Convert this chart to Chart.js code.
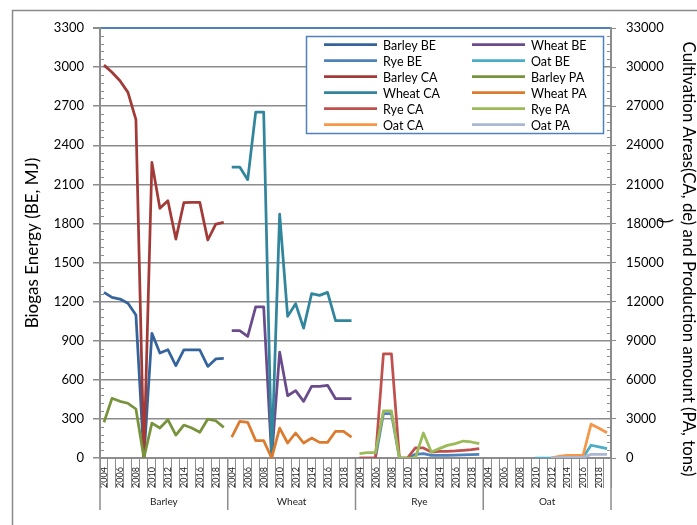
<!DOCTYPE html>
<html>
<head>
<meta charset="utf-8">
<script src="https://cdn.jsdelivr.net/npm/chart.js@4.4.1/dist/chart.umd.min.js"></script>
<style>
    body { margin: 0; background: #fff; }
    #wrap { width: 697px; height: 525px; position: relative; }
</style>
</head>
<body>
<div id="wrap"><canvas id="biogasChart"></canvas></div>
<script>
// Biogas energy / cultivation area / production by crop, 2004-2019

const groups = ['Barley', 'Wheat', 'Rye', 'Oat'];
const years = ['2004', '2005', '2006', '2007', '2008', '2009', '2010', '2011',
    '2012', '2013', '2014', '2015', '2016', '2017', '2018', '2019'];
const leftTicks = [0, 300, 600, 900, 1200, 1500, 1800, 2100, 2400, 2700, 3000, 3300];
const rightTicks = [0, 3000, 6000, 9000, 12000, 15000, 18000, 21000, 24000, 27000, 30000, 33000];

// biogas energy (left axis, MJ)
const barleyBE = [1271, 1233, 1220, 1187, 1097, 0, 957, 806, 831, 708, 829, 829, 829, 703, 760, 765];
const wheatBE = [977, 977, 933, 1159, 1159, 0, 813, 478, 517, 435, 550, 550, 558, 455, 455, 455];
const ryeBE = [0, 0, 0, 340, 340, 0, 0, 28, 33, 20, 20, 20, 22, 24, 26, 28];
const oatBE = [null, null, null, null, null, null, 0, 0, 0, 3, 3, 3, 3, 98, 85, 72];

// cultivation areas and production (right axis)
const barleyCA = [30150, 29600, 28950, 28060, 25960, 0, 22680, 19160, 19740, 16800, 19590, 19620, 19620, 16730, 17950, 18080];
const barleyPA = [2740, 4580, 4350, 4200, 3760, 0, 2680, 2300, 2940, 1760, 2530, 2300, 1970, 2990, 2860, 2350];
const wheatCA = [22330, 22330, 21360, 26550, 26550, 0, 18720, 10870, 11840, 9970, 12610, 12480, 12710, 10540, 10540, 10540];
const wheatPA = [1610, 2810, 2740, 1330, 1330, 0, 2300, 1150, 1920, 1150, 1530, 1200, 1200, 2050, 2050, 1610];
const ryeCA = [0, 0, 0, 8000, 8000, 0, 0, 770, 770, 460, 510, 510, 540, 590, 640, 720];
const ryePA = [330, 410, 410, 3610, 3610, 0, 0, 0, 1920, 460, 720, 970, 1100, 1300, 1230, 1100];
const oatCA = [null, null, null, null, null, null, null, null, 0, 130, 210, 210, 210, 2590, 2280, 1940];
const oatPA = [null, null, null, null, null, null, null, null, 0, 30, 50, 50, 50, 280, 280, 280];

const labels = groups.flatMap(g => years.map(y => g + ' ' + y));

// put a crop's 16 values into its slot of the 64 categories
function place(groupIndex, values) {
    const out = new Array(labels.length).fill(null);
    values.forEach((v, i) => { out[groupIndex * years.length + i] = v; });
    return out;
}

const FONT = 'Lato, "Open Sans", sans-serif';
const GRID = '#8C8C8C';
const RIGHT_TITLE = 'Cultivation Areas(CA, de) and Production amount (PA, tons)';

// legend order (row by row, two columns)
const seriesDefs = [
    { label: 'Barley BE', data: place(0, barleyBE), color: '#35649C', axis: 'y' },
    { label: 'Wheat BE', data: place(1, wheatBE), color: '#6A4C8C', axis: 'y' },
    { label: 'Rye BE', data: place(2, ryeBE), color: '#4F81BD', axis: 'y' },
    { label: 'Oat BE', data: place(3, oatBE), color: '#4BACC6', axis: 'y' },
    { label: 'Barley CA', data: place(0, barleyCA), color: '#A23B38', axis: 'y1' },
    { label: 'Barley PA', data: place(0, barleyPA), color: '#77933C', axis: 'y1' },
    { label: 'Wheat CA', data: place(1, wheatCA), color: '#31859C', axis: 'y1' },
    { label: 'Wheat PA', data: place(1, wheatPA), color: '#DC7A2E', axis: 'y1' },
    { label: 'Rye CA', data: place(2, ryeCA), color: '#C0504D', axis: 'y1' },
    { label: 'Rye PA', data: place(2, ryePA), color: '#9BBB59', axis: 'y1' },
    { label: 'Oat CA', data: place(3, oatCA), color: '#F79646', axis: 'y1' },
    { label: 'Oat PA', data: place(3, oatPA), color: '#AAB8D4', axis: 'y1' }
];

const decor = {
    id: 'decor',
    beforeDraw(chart) {
        const ctx = chart.ctx;
        ctx.save();
        ctx.strokeStyle = '#8A8A8A';
        ctx.lineWidth = 1.5;
        ctx.strokeRect(12.5, 10.5, chart.width, chart.height);
        ctx.restore();
    },
    afterDraw(chart) {
        const { ctx, chartArea: a, scales } = chart;
        const x = scales.x, y = scales.y, y1 = scales.y1;
        ctx.save();

        // minor ticks inside both value axes
        ctx.strokeStyle = GRID;
        ctx.lineWidth = 1;
        for (let v = 0; v < 3300; v += 60) {
            if (v % 300 === 0) continue;
            const py = Math.round(y.getPixelForValue(v)) + 0.5;
            ctx.beginPath(); ctx.moveTo(a.left, py); ctx.lineTo(a.left + 4, py); ctx.stroke();
        }
        for (let v = 0; v < 33000; v += 600) {
            if (v % 3000 === 0) continue;
            const py = Math.round(y1.getPixelForValue(v)) + 0.5;
            ctx.beginPath(); ctx.moveTo(a.right - 4, py); ctx.lineTo(a.right, py); ctx.stroke();
        }

        // year labels, every other year, reading upwards
        const step = x.getPixelForValue(1) - x.getPixelForValue(0);
        ctx.fillStyle = '#222';
        ctx.font = '9px ' + FONT;
        ctx.textAlign = 'right';
        ctx.textBaseline = 'middle';
        labels.forEach((lab, i) => {
            const yi = i % years.length;
            if (yi % 2 !== 0) return;
            ctx.save();
            ctx.translate(x.getPixelForValue(i) + 0.5, a.bottom + 9);
            ctx.rotate(-Math.PI / 2);
            ctx.fillText(years[yi], 0, 0);
            ctx.restore();
        });

        // group separators and names
        ctx.strokeStyle = GRID;
        ctx.lineWidth = 1.5;
        for (let g = 0; g <= groups.length; g++) {
            const px = x.getPixelForValue(g * years.length) - step / 2;
            ctx.beginPath(); ctx.moveTo(px, a.bottom); ctx.lineTo(px, a.bottom + 52); ctx.stroke();
        }
        ctx.font = '10px ' + FONT;
        ctx.textAlign = 'center';
        groups.forEach((g, gi) => {
            const x0 = x.getPixelForValue(gi * years.length) - step / 2;
            const x1 = x0 + step * years.length;
            ctx.fillText(g, (x0 + x1) / 2, a.bottom + 44);
        });

        // axis titles
        ctx.fillStyle = '#000';
        ctx.font = '17px ' + FONT;
        ctx.save();
        ctx.translate(33, 243);
        ctx.rotate(-Math.PI / 2);
        ctx.fillText('Biogas Energy (BE, MJ)', 0, 0);
        ctx.restore();

        // right title stretched to the length it has in the original
        ctx.font = '14px ' + FONT;
        const rtSize = Math.min(17, 14 * 436 / ctx.measureText(RIGHT_TITLE).width);
        ctx.font = rtSize.toFixed(1) + 'px ' + FONT;
        ctx.save();
        ctx.translate(688, 259);
        ctx.rotate(Math.PI / 2);
        ctx.fillText(RIGHT_TITLE, 0, 0);
        ctx.restore();
        ctx.save();
        ctx.translate(665, 221);
        ctx.rotate(Math.PI / 2);
        ctx.fillText(')', 0, 0);
        ctx.restore();

        // legend box inside the plot
        ctx.fillStyle = '#fff';
        ctx.fillRect(306.5, 36.5, 297, 97);
        ctx.strokeStyle = '#4F81BD';
        ctx.lineWidth = 1.5;
        ctx.strokeRect(306.5, 36.5, 297, 97);
        ctx.font = '12.5px ' + FONT;
        ctx.textAlign = 'left';
        chart.data.datasets.forEach((ds, i) => {
            const row = Math.floor(i / 2), col = i % 2;
            const ly = 44.5 + row * 16;
            const lx = col === 0 ? 324 : 472;
            ctx.strokeStyle = ds.borderColor;
            ctx.lineWidth = 2.75;
            ctx.beginPath(); ctx.moveTo(lx, ly); ctx.lineTo(lx + 53, ly); ctx.stroke();
            ctx.fillStyle = '#000';
            ctx.fillText(ds.label, lx + 59, ly + 1);
        });

        ctx.restore();
    }
};

const ctx = document.getElementById('biogasChart');

new Chart(ctx, {
    type: 'line',
    data: {
        labels: labels,
        datasets: seriesDefs.map((s, i) => ({
            label: s.label,
            data: s.data,
            yAxisID: s.axis,
            borderColor: s.color,
            backgroundColor: s.color,
            borderWidth: 2.75,
            borderJoinStyle: 'round',
            pointRadius: 0,
            tension: 0,
            spanGaps: false,
            order: seriesDefs.length - i
        }))
    },
    options: {
        responsive: true,
        maintainAspectRatio: false,
        animation: false,
        layout: { padding: { left: 12, top: 28, right: 0, bottom: 0 } },
        plugins: {
            legend: { display: false },
            tooltip: { enabled: false }
        },
        scales: {
            x: {
                type: 'category',
                offset: true,
                afterFit: (scale) => { scale.height = 67; },
                ticks: { display: false, autoSkip: false },
                grid: {
                    display: true,
                    offset: true,
                    drawOnChartArea: false,
                    drawTicks: true,
                    tickLength: 30,
                    color: GRID,
                    lineWidth: 1
                },
                border: { color: GRID, width: 2 }
            },
            y: {
                position: 'left',
                min: 0,
                max: 3300,
                afterFit: (scale) => { scale.width = 88; },
                afterBuildTicks: (scale) => { scale.ticks = leftTicks.map(v => ({ value: v })); },
                ticks: {
                    color: '#000',
                    padding: 9,
                    font: { family: FONT, size: 13 },
                    callback: (v) => String(v)
                },
                grid: {
                    color: (c) => c.tick && c.tick.value === 3300 ? '#4F81BD' : GRID,
                    tickColor: GRID,
                    lineWidth: (c) => c.tick && c.tick.value === 3300 ? 2 : 1.5,
                    tickLength: 7
                },
                border: { color: GRID, width: 2 }
            },
            y1: {
                position: 'right',
                min: 0,
                max: 33000,
                afterFit: (scale) => { scale.width = 86; },
                afterBuildTicks: (scale) => { scale.ticks = rightTicks.map(v => ({ value: v })); },
                ticks: {
                    color: '#000',
                    padding: 10,
                    font: { family: FONT, size: 13 },
                    callback: (v) => String(v)
                },
                grid: {
                    drawOnChartArea: false,
                    color: GRID,
                    tickLength: 5
                },
                border: { color: GRID, width: 2 }
            }
        }
    },
    plugins: [decor]
});
</script>
</body>
</html>
